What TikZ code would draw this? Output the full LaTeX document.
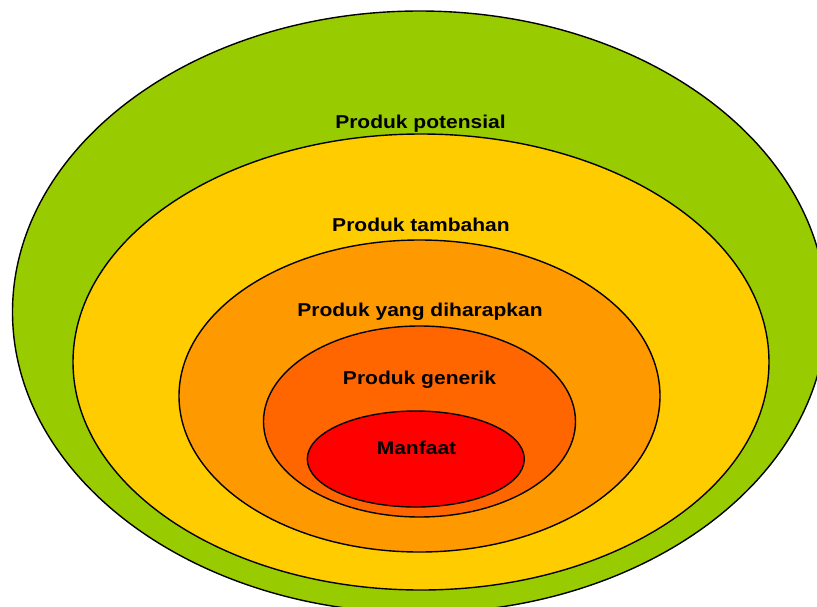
\documentclass[tikz,border=0pt]{standalone}
\usepackage{fontspec}
\setmainfont{Liberation Sans}
\tikzset{
  ring/.style={draw=black, line width=1.4pt},
  lbl/.style={anchor=base, inner sep=0pt, font=\fontsize{18.6}{20}\selectfont\bfseries},
}
\definecolor{potensial}{HTML}{99CC00}
\definecolor{tambahan}{HTML}{FFCC00}
\definecolor{harapan}{HTML}{FF9900}
\definecolor{generik}{HTML}{FF6600}
\definecolor{manfaat}{HTML}{FF0000}
\newcommand{\wide}[1]{\scalebox{1.13}[1]{#1}}
\begin{document}
\begin{tikzpicture}[x=1pt, y=-1pt]
  \useasboundingbox (0,0) rectangle (817,606);
  \clip (0,0) rectangle (817,606);
  % nested product levels, outermost first
  \filldraw[ring, fill=potensial] (419.5,312) ellipse [x radius=407, y radius=301];
  \filldraw[ring, fill=tambahan] (421,362) ellipse [x radius=348, y radius=228];
  \filldraw[ring, fill=harapan] (419.5,396) ellipse [x radius=240.5, y radius=156];
  \filldraw[ring, fill=generik] (419.5,421.5) ellipse [x radius=156, y radius=95.5];
  \filldraw[ring, fill=manfaat] (415.8,459) ellipse [x radius=108.5, y radius=48];
  % level labels
  \node[lbl] (tpot) at (420.5,128.7) {\wide{Produk potensial}};
  \node[lbl] (ttam) at (421,231.5) {\wide{Produk tambahan}};
  \node[lbl] (thar) at (420,316.5) {\wide{Produk yang diharapkan}};
  \node[lbl] (tgen) at (419.5,384.6) {\wide{Produk generik}};
  \node[lbl] (tman) at (416.5,454.7) {\wide{Manfaat}};
\end{tikzpicture}
\end{document}
